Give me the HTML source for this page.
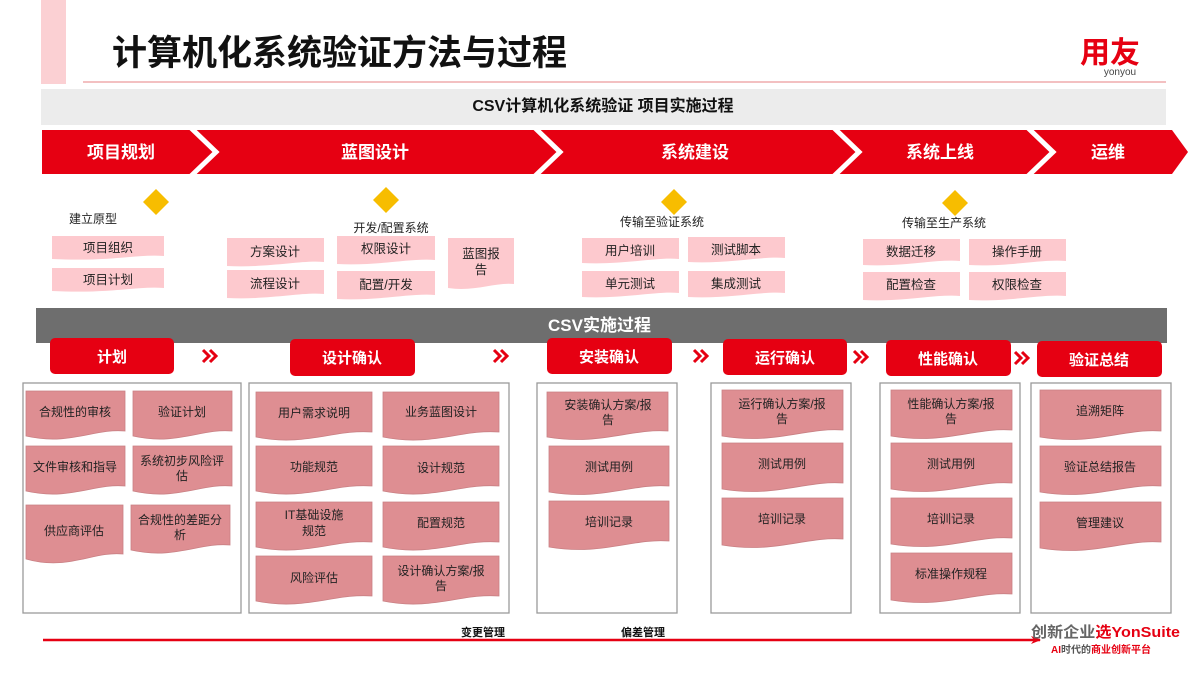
<!DOCTYPE html>
<html><head><meta charset="utf-8"><style>
html,body{margin:0;padding:0;background:#fff;}
svg{display:block;}
text{font-family:"Liberation Sans","Noto Sans CJK SC",sans-serif;}
</style></head><body>
<svg width="1200" height="675" viewBox="0 0 1200 675" xmlns="http://www.w3.org/2000/svg">
<defs>
<marker id="ah" markerWidth="10" markerHeight="8" refX="9" refY="4" orient="auto" markerUnits="userSpaceOnUse"><path d="M0,0 L10,4 L0,8 L3,4 Z" fill="#e60012"/></marker>
</defs>
<rect x="41" y="0" width="25" height="84" fill="#fbd0d3"/>
<text x="112" y="65" font-size="35" font-weight="bold" fill="#111">计算机化系统验证方法与过程</text>
<line x1="83" y1="82" x2="1166" y2="82" stroke="#ec9a9c" stroke-width="1.2"/>
<text x="1110" y="63" font-size="30" font-weight="bold" fill="#e60012" text-anchor="middle">用友</text>
<text x="1120" y="75" font-size="10" fill="#444" text-anchor="middle">yonyou</text>
<rect x="41" y="89" width="1125" height="36" fill="#ececec"/>
<text x="603" y="111" font-size="16" font-weight="bold" fill="#111" text-anchor="middle">CSV计算机化系统验证 项目实施过程</text>
<path d="M42,130 H1172 L1188,152 L1172,174 H42 Z" fill="#e60012"/>
<g stroke="#fff" stroke-width="5" fill="none">
<path d="M191,128 L216,152 L191,176"/>
<path d="M535,128 L560,152 L535,176"/>
<path d="M834,128 L859,152 L834,176"/>
<path d="M1028,128 L1053,152 L1028,176"/>
</g>
<g font-size="17" font-weight="bold" fill="#fff" text-anchor="middle">
<text x="121" y="158">项目规划</text>
<text x="375" y="158">蓝图设计</text>
<text x="695" y="158">系统建设</text>
<text x="940" y="158">系统上线</text>
<text x="1108" y="158">运维</text>
</g>
<g fill="#f7bd00">
<path d="M156,189 L169,202 L156,215 L143,202 Z"/>
<path d="M386,187 L399,200 L386,213 L373,200 Z"/>
<path d="M674,189 L687,202 L674,215 L661,202 Z"/>
<path d="M955,190 L968,203 L955,216 L942,203 Z"/>
</g>
<g font-size="12" fill="#222">
<text x="69" y="223">建立原型</text>
<text x="391" y="232" text-anchor="middle">开发/配置系统</text>
<text x="662" y="226" text-anchor="middle">传输至验证系统</text>
<text x="944" y="227" text-anchor="middle">传输至生产系统</text>
</g>
<g fill="#fdc9ce">
<path d="M52,236 H164 V256 C135,254 110,262 52,259 Z"/>
<path d="M52,268 H164 V288 C135,286 110,294 52,291 Z"/>
<path d="M227,238 H324 V262 C300,260 270,268 227,266 Z"/>
<path d="M227,270 H324 V294 C300,292 270,300 227,298 Z"/>
<path d="M337,236 H435 V260 C410,258 380,266 337,264 Z"/>
<path d="M337,271 H435 V295 C410,293 380,301 337,299 Z"/>
<path d="M448,238 H514 V284 C495,282 475,292 448,288 Z"/>
<path d="M582,238 H679 V259 C655,257 625,265 582,263 Z"/>
<path d="M688,237 H785 V258 C760,256 730,264 688,262 Z"/>
<path d="M582,271 H679 V293 C655,291 625,299 582,297 Z"/>
<path d="M688,271 H785 V293 C760,291 730,299 688,297 Z"/>
<path d="M863,239 H960 V261 C935,259 905,267 863,265 Z"/>
<path d="M969,239 H1066 V261 C1040,259 1010,267 969,265 Z"/>
<path d="M863,272 H960 V296 C935,294 905,302 863,300 Z"/>
<path d="M969,272 H1066 V296 C1040,294 1010,302 969,300 Z"/>
</g>
<g font-size="12.5" fill="#222" text-anchor="middle">
<text x="108" y="252">项目组织</text>
<text x="108" y="284">项目计划</text>
<text x="275" y="256">方案设计</text>
<text x="275" y="288">流程设计</text>
<text x="386" y="253">权限设计</text>
<text x="386" y="289">配置/开发</text>
<text x="481" y="258">蓝图报</text>
<text x="481" y="274">告</text>
<text x="630" y="255">用户培训</text>
<text x="736" y="254">测试脚本</text>
<text x="630" y="288">单元测试</text>
<text x="736" y="288">集成测试</text>
<text x="911" y="256">数据迁移</text>
<text x="1017" y="256">操作手册</text>
<text x="911" y="289">配置检查</text>
<text x="1017" y="289">权限检查</text>
</g>
<rect x="36" y="308" width="1131" height="35" fill="#6e6e6e"/>
<text x="548" y="331" font-size="17" font-weight="bold" fill="#fff">CSV实施过程</text>
<g fill="#e60012">
<rect x="50" y="338" width="124" height="36" rx="5"/>
<rect x="290" y="339" width="125" height="37" rx="5"/>
<rect x="547" y="338" width="125" height="36" rx="5"/>
<rect x="723" y="339" width="124" height="36" rx="5"/>
<rect x="886" y="340" width="125" height="36" rx="5"/>
<rect x="1037" y="341" width="125" height="36" rx="5"/>
</g>
<g font-size="15" font-weight="bold" fill="#fff" text-anchor="middle">
<text x="112" y="362">计划</text>
<text x="352" y="363">设计确认</text>
<text x="609" y="362">安装确认</text>
<text x="785" y="363">运行确认</text>
<text x="948" y="364">性能确认</text>
<text x="1099" y="365">验证总结</text>
</g>
<g stroke="#e60012" stroke-width="3" fill="none">
<path d="M203,350 L209,356 L203,362 M210,350 L216,356 L210,362"/>
<path d="M494,350 L500,356 L494,362 M501,350 L507,356 L501,362"/>
<path d="M694,350 L700,356 L694,362 M701,350 L707,356 L701,362"/>
<path d="M854,351 L860,357 L854,363 M861,351 L867,357 L861,363"/>
<path d="M1015,352 L1021,358 L1015,364 M1022,352 L1028,358 L1022,364"/>
</g>
<g fill="#fff" stroke="#9a9a9a" stroke-width="1.3">
<rect x="23" y="383" width="218" height="230"/>
<rect x="249" y="383" width="260" height="230"/>
<rect x="537" y="383" width="140" height="230"/>
<rect x="711" y="383" width="140" height="230"/>
<rect x="880" y="383" width="140" height="230"/>
<rect x="1031" y="383" width="140" height="230"/>
</g>
<g fill="#de8e92" stroke="#c98084" stroke-width="0.8">
<path d="M26,391 H125 V431 C95,428 70,446 26,436 Z"/>
<path d="M133,391 H232 V431 C202,428 177,446 133,436 Z"/>
<path d="M26,446 H125 V486 C95,483 70,501 26,491 Z"/>
<path d="M133,446 H232 V486 C202,483 177,501 133,491 Z"/>
<path d="M26,505 H123 V554 C93,551 68,571 26,559 Z"/>
<path d="M131,505 H230 V545 C200,542 175,560 131,550 Z"/>
<path d="M256,392 H372 V432 C335,429 305,447 256,437 Z"/>
<path d="M383,392 H499 V432 C462,429 432,447 383,437 Z"/>
<path d="M256,446 H372 V486 C335,483 305,501 256,491 Z"/>
<path d="M383,446 H499 V486 C462,483 432,501 383,491 Z"/>
<path d="M256,502 H372 V542 C335,539 305,557 256,547 Z"/>
<path d="M383,502 H499 V542 C462,539 432,557 383,547 Z"/>
<path d="M256,556 H372 V596 C335,593 305,611 256,601 Z"/>
<path d="M383,556 H499 V596 C462,593 432,611 383,601 Z"/>
<path d="M547,392 H668 V431 C632,428 600,446 547,437 Z"/>
<path d="M549,446 H669 V486 C633,483 601,501 549,492 Z"/>
<path d="M549,501 H669 V541 C633,538 601,556 549,547 Z"/>
<path d="M722,390 H843 V430 C807,427 775,445 722,436 Z"/>
<path d="M722,443 H843 V483 C807,480 775,498 722,489 Z"/>
<path d="M722,498 H843 V539 C807,536 775,554 722,545 Z"/>
<path d="M891,390 H1012 V430 C976,427 944,445 891,436 Z"/>
<path d="M891,443 H1012 V483 C976,480 944,498 891,489 Z"/>
<path d="M891,498 H1012 V538 C976,535 944,553 891,544 Z"/>
<path d="M891,553 H1012 V594 C976,591 944,609 891,600 Z"/>
<path d="M1040,390 H1161 V431 C1125,428 1093,446 1040,437 Z"/>
<path d="M1040,446 H1161 V486 C1125,483 1093,501 1040,492 Z"/>
<path d="M1040,502 H1161 V542 C1125,539 1093,557 1040,548 Z"/>
</g>
<g font-size="12" fill="#222" text-anchor="middle">
<text x="75" y="416">合规性的审核</text>
<text x="182" y="416">验证计划</text>
<text x="75" y="471">文件审核和指导</text>
<text x="182" y="465">系统初步风险评</text>
<text x="182" y="480">估</text>
<text x="74" y="535">供应商评估</text>
<text x="180" y="524">合规性的差距分</text>
<text x="180" y="539">析</text>
<text x="314" y="417">用户需求说明</text>
<text x="441" y="416">业务蓝图设计</text>
<text x="314" y="471">功能规范</text>
<text x="441" y="472">设计规范</text>
<text x="314" y="519">IT基础设施</text>
<text x="314" y="535">规范</text>
<text x="441" y="527">配置规范</text>
<text x="314" y="582">风险评估</text>
<text x="441" y="575">设计确认方案/报</text>
<text x="441" y="590">告</text>
<text x="608" y="409">安装确认方案/报</text>
<text x="608" y="424">告</text>
<text x="609" y="471">测试用例</text>
<text x="609" y="526">培训记录</text>
<text x="782" y="408">运行确认方案/报</text>
<text x="782" y="423">告</text>
<text x="782" y="468">测试用例</text>
<text x="782" y="523">培训记录</text>
<text x="951" y="408">性能确认方案/报</text>
<text x="951" y="423">告</text>
<text x="951" y="468">测试用例</text>
<text x="951" y="523">培训记录</text>
<text x="951" y="578">标准操作规程</text>
<text x="1100" y="415">追溯矩阵</text>
<text x="1100" y="471">验证总结报告</text>
<text x="1100" y="527">管理建议</text>
</g>
<line x1="43" y1="640" x2="1040" y2="640" stroke="#e60012" stroke-width="2.5" marker-end="url(#ah)"/>
<text x="483" y="636" font-size="11" font-weight="bold" fill="#111" text-anchor="middle">变更管理</text>
<text x="643" y="636" font-size="11" font-weight="bold" fill="#111" text-anchor="middle">偏差管理</text>
<text x="1031" y="637" font-size="15" font-weight="bold" fill="#666" textLength="149" lengthAdjust="spacingAndGlyphs">创新企业<tspan fill="#e60012">选YonSuite</tspan></text>
<text x="1051" y="653" font-size="10" font-weight="bold" fill="#e60012">AI<tspan fill="#555">时代的</tspan>商业创新平台</text>
</svg>
</body></html>
